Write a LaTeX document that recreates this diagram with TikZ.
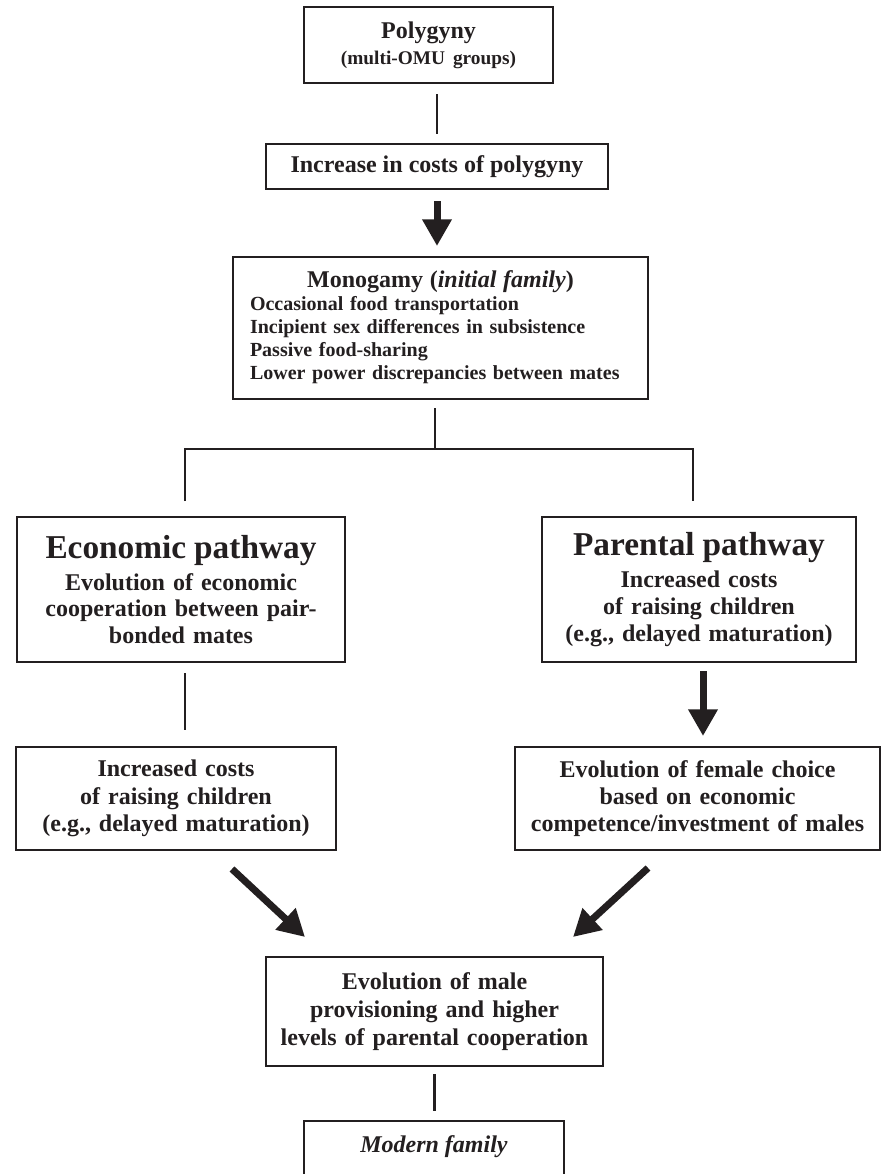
\documentclass[tikz,border=0pt]{standalone}
\usepackage{fontspec}
\setmainfont{Liberation Serif}
\usetikzlibrary{arrows.meta,calc}
\definecolor{ink}{HTML}{231F20}
\begin{document}
\begin{tikzpicture}[x=0.75pt,y=-0.75pt,
  box/.style={draw=ink, line width=1.5pt, inner sep=0pt, text=ink, align=center},
  body/.style={font=\fontsize{18}{20}\selectfont\bfseries},
  conn/.style={draw=ink, line width=2.2pt},
  fat/.style={draw=ink, fill=ink, line width=5.25pt, -{Triangle[width=21pt,length=20pt]}}]
\path[use as bounding box, clip] (0,0) rectangle (882,1174);
\fill[white] (0,0) rectangle (882,1174);

\node[box, minimum width=186.75pt, minimum height=57pt, text width=180pt,
  font=\fontsize{18}{19.5}\selectfont\bfseries] (poly) at (428.5,45)
  {Polygyny\\ \fontsize{14.5}{19.5}\selectfont (multi-OMU groups)};

\node[box, minimum width=256.5pt, minimum height=33.75pt,
  font=\fontsize{18}{20}\selectfont\bfseries] (incr) at (437,166.5)
  {Increase in costs of polygyny};

\node[box, minimum width=311.25pt, minimum height=106.5pt, text width=285.75pt, align=left,
  font=\fontsize{15}{17.25}\selectfont\bfseries] (mono) at (440.5,328)
  {\hbox to\hsize{\hfil\fontsize{18}{18}\selectfont Monogamy (\textit{initial family})\hfil}\\
   Occasional food transportation\\
   Incipient sex differences in subsistence\\
   Passive food-sharing\\
   Lower power discrepancies between mates\rule[-4pt]{0pt}{0pt}};

\node[box, body, minimum width=246pt, minimum height=108.75pt, text width=236pt] (econ) at (181,589.5)
  {{\fontsize{25}{24}\selectfont Economic pathway}\\[4pt]
   Evolution of economic\\ cooperation between pair-\\ bonded mates};

\node[box, body, minimum width=235.5pt, minimum height=108.75pt, text width=226pt] (par) at (699,589.5)
  {{\fontsize{25}{24}\selectfont Parental pathway}\\[4pt]
   Increased costs\\ of raising children\\ (e.g., delayed maturation)};

\node[box, font=\fontsize{18}{20.5}\selectfont\bfseries, minimum width=240pt, minimum height=77.25pt, text width=230pt] (inc2) at (176,798.5)
  {Increased costs\\ of raising children\\ (e.g., delayed maturation)};

\node[box, font=\fontsize{18}{20.5}\selectfont\bfseries, minimum width=273.75pt, minimum height=77.25pt, text width=265pt] (fem) at (697.5,798.5)
  {Evolution of female choice\\ based on economic\\ competence/investment of males};

\node[box, font=\fontsize{18}{21}\selectfont\bfseries, minimum width=252.75pt, minimum height=81.75pt, text width=245pt] (male) at (434.5,1011.5)
  {Evolution of male\\ provisioning and higher\\ levels of parental cooperation};

\node[box, font=\fontsize{18}{20}\selectfont\bfseries, anchor=north, minimum width=195pt,
  text height=23.25pt, text depth=60pt] (mod) at (434,1120)
  {\textit{Modern family}};

% connectors
\draw[conn, shorten <=7.5pt, shorten >=6.75pt] (incr.north |- poly.south) -- (incr.north);
\draw[fat, shorten <=8.25pt, shorten >=7.5pt] (incr.south) -- (incr.south |- mono.north);

\coordinate (j) at (435,449);
\coordinate (jl) at (185,449);
\coordinate (jr) at (693,449);
\coordinate (pa) at (703,700);
\draw[conn, shorten <=6pt] (j |- mono.south) -- (j);
\draw[conn, shorten <=11.25pt, shorten >=11.25pt] (jl |- econ.north) -- (jl) -- (jr) -- (jr |- par.north);

\draw[conn, shorten <=7.5pt, shorten >=12pt] (jl |- econ.south) -- (jl |- inc2.north);
\draw[fat, shorten <=6pt, shorten >=7.5pt] (pa |- par.south) -- (pa |- fem.north);

\draw[fat] ($(inc2.south)+(56,18)$) -- ($(male.north)+(-129.5,-19)$);
\draw[fat] ($(fem.south)+(-49.5,17)$) -- ($(male.north)+(138.5,-19)$);

\draw[conn, shorten <=5.25pt, shorten >=6.75pt] (male.south) -- (male.south |- mod.north);
\end{tikzpicture}
\end{document}
